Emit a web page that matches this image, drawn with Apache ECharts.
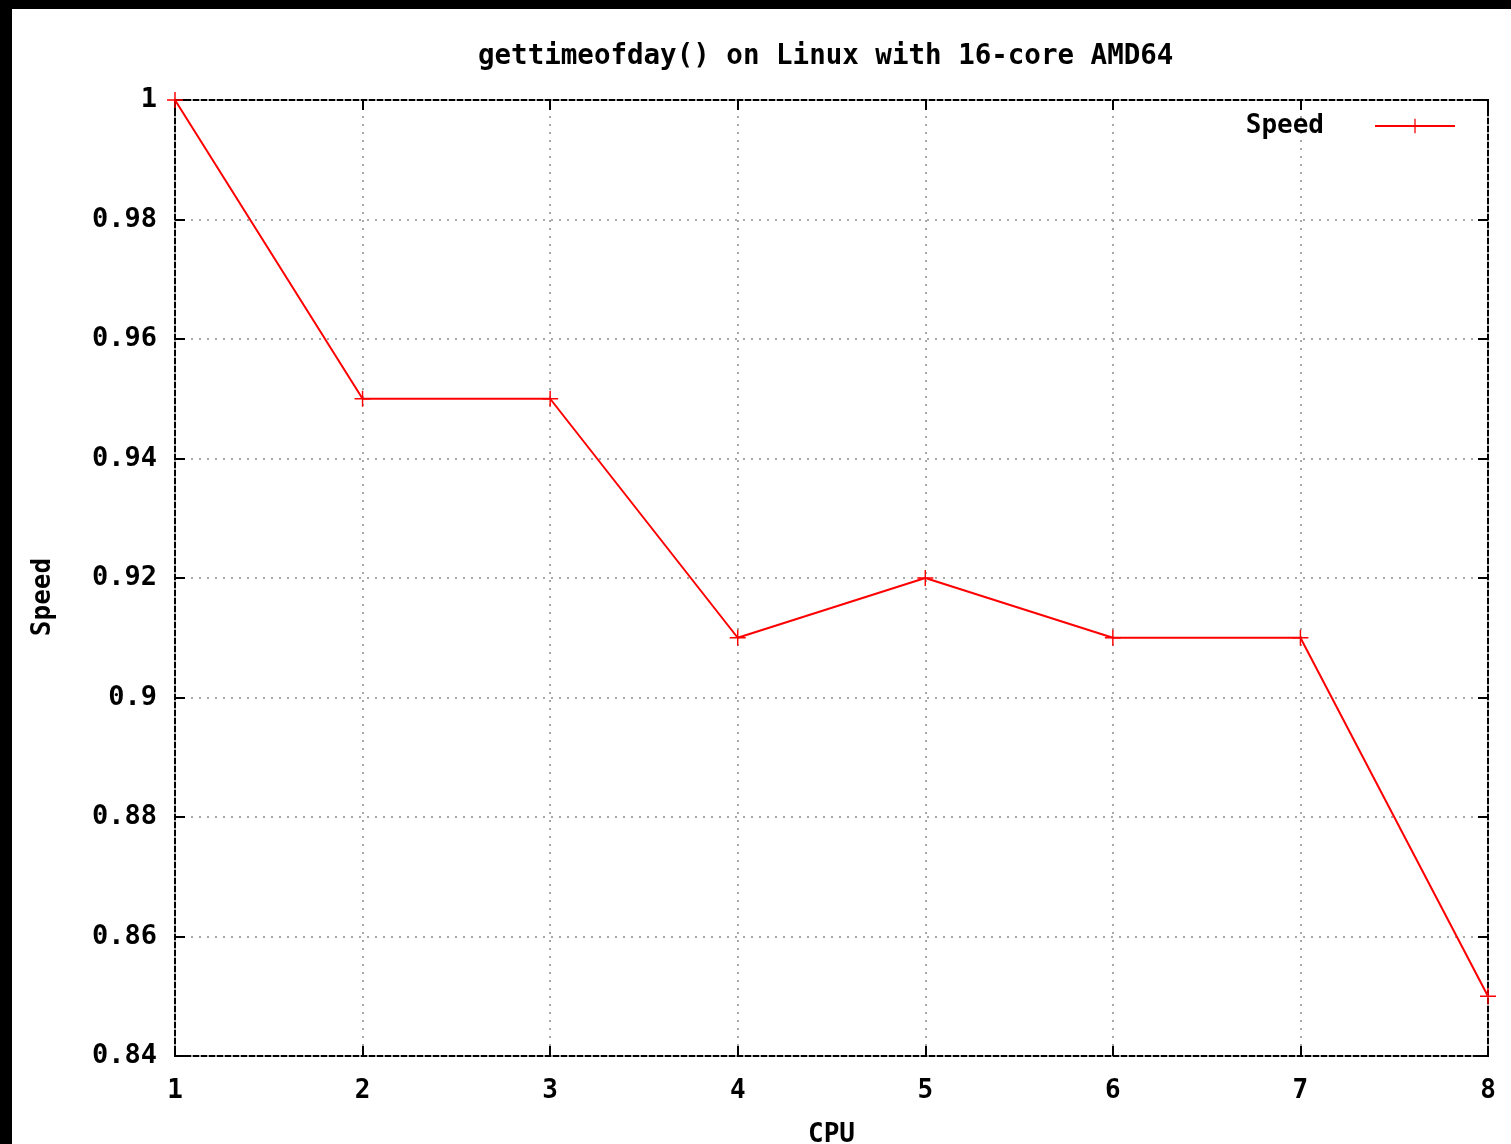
<!DOCTYPE html>
<html>
<head>
<meta charset="utf-8">
<script src="https://cdn.jsdelivr.net/npm/echarts@6/dist/echarts.min.js"></script>
<style>
html,body{margin:0;padding:0;background:#fff;}
#chart{width:1511px;height:1144px;}
</style>
</head>
<body>
<div id="chart"></div>
<script>
const titleText = 'gettimeofday() on Linux with 16-core AMD64';
const seriesName = 'Speed';
const cpus = [1, 2, 3, 4, 5, 6, 7, 8];
const speeds = [1.0, 0.95, 0.95, 0.91, 0.92, 0.91, 0.91, 0.85];
const xName = 'CPU';
const yName = 'Speed';

const FONT = '"DejaVu Sans Mono", "Liberation Mono", monospace';
const chart = echarts.init(document.getElementById('chart'));
const plus = 'path://M-1,-0.09H1V0.09H-1Z M-0.09,-1H0.09V1H-0.09Z';
const gridLine = {show: true, lineStyle: {color: '#a8a8a8', width: 2, type: [2, 6]}};
const tick = {show: true, inside: true, length: 10, lineStyle: {color: '#000', width: 2}};

chart.setOption({
  animation: false,
  backgroundColor: '#fff',
  textStyle: {fontFamily: FONT},
  graphic: [
    {type: 'rect', shape: {x: 0, y: 0, width: 1511, height: 9}, style: {fill: '#000'}, silent: true},
    {type: 'rect', shape: {x: 0, y: 0, width: 12, height: 1144}, style: {fill: '#000'}, silent: true}
  ],
  title: {
    text: titleText, left: 478, top: 43, padding: 0,
    textStyle: {fontFamily: FONT, fontWeight: 'bold', fontSize: 27.5, color: '#000'}
  },
  legend: {
    right: 55, top: 113, padding: 0, align: 'right',
    itemWidth: 80, itemHeight: 18,
    textStyle: {fontFamily: FONT, fontWeight: 'bold', fontSize: 26, color: '#000', padding: [0, 46, 0, 0]},
    data: [seriesName]
  },
  grid: {left: 175, right: 23, top: 100, bottom: 88, show: true, borderColor: '#000', borderWidth: 2,
         backgroundColor: 'transparent', containLabel: false, outerBoundsMode: 'none'},
  xAxis: [{
    type: 'value', min: 1, max: 8, interval: 1,
    name: xName, nameLocation: 'middle', nameGap: 66,
    nameTextStyle: {fontFamily: FONT, fontWeight: 'bold', fontSize: 26, color: '#000'},
    axisLine: {show: false}, axisTick: tick,
    axisLabel: {margin: 22, fontFamily: FONT, fontWeight: 'bold', fontSize: 26, color: '#000'},
    splitLine: gridLine
  }, {
    type: 'value', position: 'top', min: 1, max: 8, interval: 1,
    axisLine: {show: false}, axisTick: tick, axisLabel: {show: false}, splitLine: {show: false}
  }],
  yAxis: [{
    type: 'value', min: 0.84, max: 1, interval: 0.02,
    name: yName, nameLocation: 'middle', nameGap: 119,
    nameTextStyle: {fontFamily: FONT, fontWeight: 'bold', fontSize: 26, color: '#000', padding: [0, 38, 0, 0]},
    axisLine: {show: false}, axisTick: tick,
    axisLabel: {margin: 18, fontFamily: FONT, fontWeight: 'bold', fontSize: 27, color: '#000'},
    splitLine: gridLine
  }, {
    type: 'value', position: 'right', min: 0.84, max: 1, interval: 0.02,
    axisLine: {show: false}, axisTick: tick, axisLabel: {show: false}, splitLine: {show: false}
  }],
  series: [{
    name: seriesName, type: 'line',
    data: cpus.map((c, i) => [c, speeds[i]]),
    symbol: plus, symbolSize: 16, showSymbol: true,
    lineStyle: {color: '#ff0000', width: 2},
    itemStyle: {color: '#ff0000'},
    clip: false
  }]
});
</script>
</body>
</html>
